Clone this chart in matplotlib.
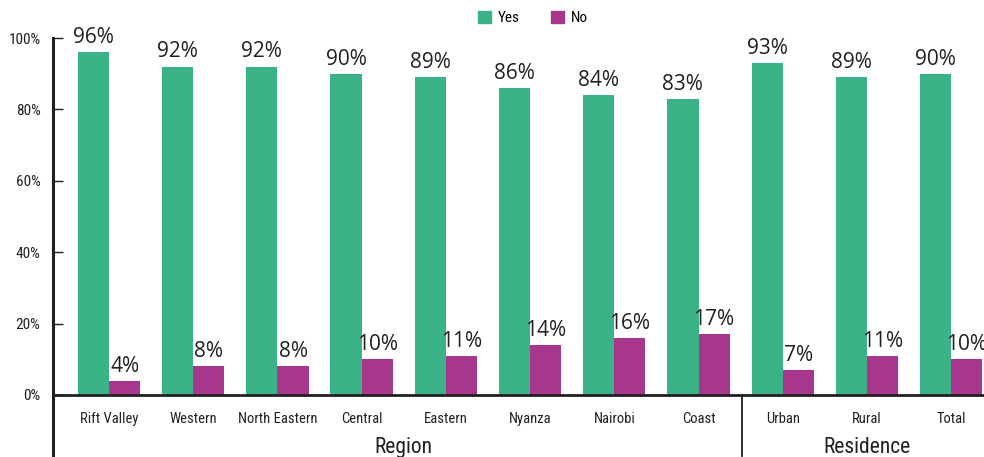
import matplotlib
matplotlib.use("Agg")
import matplotlib.pyplot as plt
from matplotlib.lines import Line2D
from matplotlib.patches import Patch
from matplotlib import font_manager as fm
import numpy as np

categories = ["Rift Valley", "Western", "North Eastern", "Central", "Eastern",
              "Nyanza", "Nairobi", "Coast", "Urban", "Rural", "Total"]
yes_vals = [96, 92, 92, 90, 89, 86, 84, 83, 93, 89, 90]
no_vals = [4, 8, 8, 10, 11, 14, 16, 17, 7, 11, 10]
y_ticks = [0, 20, 40, 60, 80, 100]
y_tick_labels = ["0%", "20%", "40%", "60%", "80%", "100%"]
groups = [("Region", 0, 7), ("Residence", 8, 10)]

GREEN = "#3BB386"
PURPLE = "#A6378C"
DARK = "#231F20"

names = {f.name for f in fm.fontManager.ttflist}
def pick(*cands):
    for c in cands:
        if c in names:
            return c
    return "DejaVu Sans"

LBL = pick("Roboto Condensed", "Liberation Sans Narrow", "Roboto")
VAL = pick("Open Sans", "Noto Sans")

fig = plt.figure(figsize=(9.84, 4.57), dpi=100)
ax = fig.add_axes([53 / 984, (457 - 395) / 457, 1 - 53 / 984, (395 - 38) / 457])

x = np.arange(len(categories))
w = 0.37
b1 = ax.bar(x - w / 2, yes_vals, w, color=GREEN, label="Yes")
b2 = ax.bar(x + w / 2, no_vals, w, color=PURPLE, label="No")

for bars, vals in ((b1, yes_vals), (b2, no_vals)):
    for r, v in zip(bars, vals):
        ax.annotate(f"{v}%", (r.get_x() + r.get_width() / 2, v), xytext=(0, 3),
                    textcoords="offset points", ha="center", va="bottom",
                    fontsize=15, family=VAL, color=DARK,
                    annotation_clip=False, clip_on=False)

ax.set_xlim(-0.665, 10.39)
ax.set_ylim(0, 100)
ax.set_yticks(y_ticks)
ax.set_yticklabels(y_tick_labels, family=LBL, fontsize=11, color=DARK)
ax.tick_params(axis="y", direction="in", length=7, width=1, color=DARK, pad=9)
ax.set_xticks(x)
ax.set_xticklabels(categories, family=LBL, fontsize=10.5, color=DARK)
ax.tick_params(axis="x", length=0, pad=12)

for s in ("top", "right", "left"):
    ax.spines[s].set_visible(False)
ax.spines["bottom"].set_linewidth(2)
ax.spines["bottom"].set_color(DARK)

# left spine extended to the bottom of the figure
ax.add_line(Line2D([-0.665, -0.665], [100, -17.5], color=DARK, lw=2.2,
                   clip_on=False))
# separator
ax.add_line(Line2D([7.52, 7.52], [0, -17], color=DARK, lw=1.3, clip_on=False))

for name, a, b in groups:
    ax.text((a + b) / 2, -14.6, name, ha="center", va="center",
            family=LBL, fontsize=15.5, color=DARK)

handles = [Patch(color=GREEN, label="Yes"), Patch(color=PURPLE, label="No")]
fig.legend(handles=handles, loc="center", bbox_to_anchor=(533 / 984, 1 - 18 / 457),
           ncol=2, frameon=False, prop={"family": LBL, "size": 11},
           handlelength=0.8, handleheight=0.8, columnspacing=2.1, handletextpad=0.45)

fig.savefig("out.png", dpi=100)
